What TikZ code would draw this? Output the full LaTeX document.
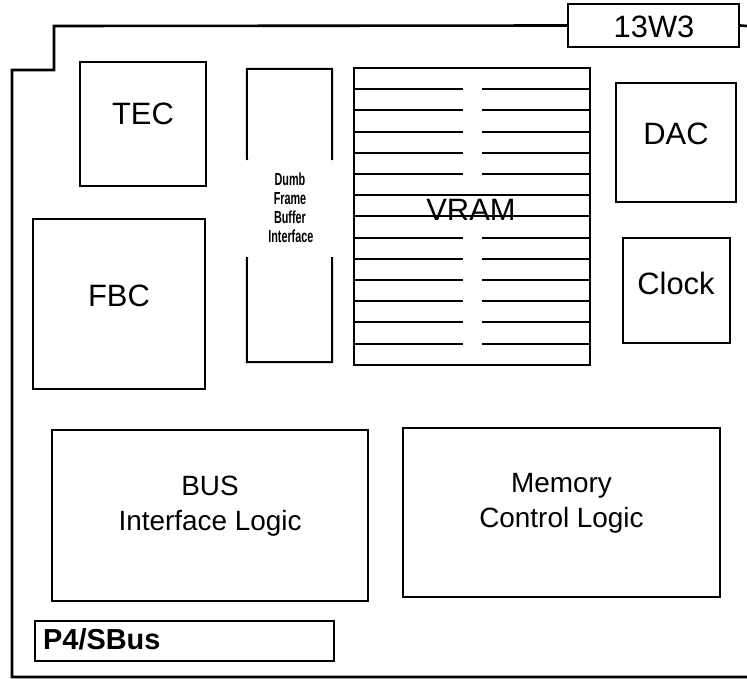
\documentclass[tikz,border=0pt]{standalone}
\usepackage{fontspec}
\setmainfont{Liberation Sans}
\begin{document}
\begin{tikzpicture}[x=1bp,y=-1bp,
  board/.style={line width=2.6bp, line join=miter},
  chip/.style={draw, line width=2bp, inner sep=0pt},
  lbl/.style={inner sep=0pt, font=\fontsize{31}{36}\selectfont},
  lbltwo/.style={inner sep=0pt, align=center, font=\fontsize{28}{35}\selectfont},
  vline/.style={line width=2bp}]
\useasboundingbox (0,0) rectangle (747,679);

% connector 13W3
\node[chip, minimum width=171bp, minimum height=43bp] (conn) at (653.5,25.5) {};
\node[lbl] (connl) at (654,27) {13W3};
% board outline
\coordinate (edgeR) at (747,26);
\coordinate (s1) at (54,26);
\coordinate (s2) at (54,70);
\coordinate (s3) at (12,70);
\coordinate (s4) at (12,677);
\coordinate (s5) at (747,677);
\draw[board] (conn.west) -- (s1) -- (s2) -- (s3) -- (s4) -- (s5);
\draw[board] (conn.east) -- (edgeR);

% TEC
\node[chip, minimum width=126bp, minimum height=124bp] (tec) at (143,124) {};
\node[lbl] (tecl) at (143,114) {TEC};
% FBC
\node[chip, minimum width=172bp, minimum height=170bp] (fbc) at (119,304) {};
\node[lbl] (fbcl) at (119,296) {FBC};
% DAC
\node[chip, minimum width=120bp, minimum height=119bp] (dac) at (676,142.5) {};
\node[lbl] (dacl) at (676,134) {DAC};
% Clock
\node[chip, minimum width=107bp, minimum height=105bp] (clk) at (676.5,290.5) {};
\node[lbl] (clkl) at (676,283) {Clock};

% Dumb frame buffer interface
\node[inner sep=0pt, minimum width=85bp, minimum height=293bp] (dfb) at (289.5,215.5) {};
\coordinate (g1) at (247,160);
\coordinate (g2) at (332,160);
\coordinate (g3) at (247,257);
\coordinate (g4) at (332,257);
\draw[line width=2bp] (g1) -- (dfb.north west) -- (dfb.north east) -- (g2);
\draw[line width=2bp] (g3) -- (dfb.south west) -- (dfb.south east) -- (g4);
\node[inner sep=0pt, align=center] (dfbl) at (290,208)
  {\scalebox{0.62}[1]{\parbox{70bp}{\centering\bfseries\fontsize{17.5}{19}\selectfont Dumb\\Frame\\Buffer\\Interface}}};

% VRAM
\node[chip, minimum width=236bp, minimum height=297bp] (vram) at (472,216.5) {};
\foreach \k in {1,2,3,4,5,8,9,10,11,12,13} {
  \draw[vline] (354,68+21.2*\k) -- (463,68+21.2*\k);
  \draw[vline] (482,68+21.2*\k) -- (590,68+21.2*\k);
}
\foreach \k in {6,7} {
  \draw[vline] (354,68+21.2*\k) -- (590,68+21.2*\k);
}
\node[lbl] (vraml) at (471,210) {VRAM};

% BUS Interface Logic
\node[chip, minimum width=316bp, minimum height=171bp] (bus) at (210,515.5) {};
\node[lbltwo] (busl) at (210,506) {BUS\\Interface Logic};
% Memory Control Logic
\node[chip, minimum width=317bp, minimum height=169bp] (mem) at (561.5,512.5) {};
\node[lbltwo] (meml) at (561.5,503) {Memory\\Control Logic};

% P4/SBus
\node[chip, minimum width=299bp, minimum height=40bp] (p4) at (184.5,641) {};
\node[inner sep=0pt, anchor=west, font=\bfseries\fontsize{29}{34}\selectfont] (p4l) at (43,639) {P4/SBus};
\end{tikzpicture}
\end{document}
